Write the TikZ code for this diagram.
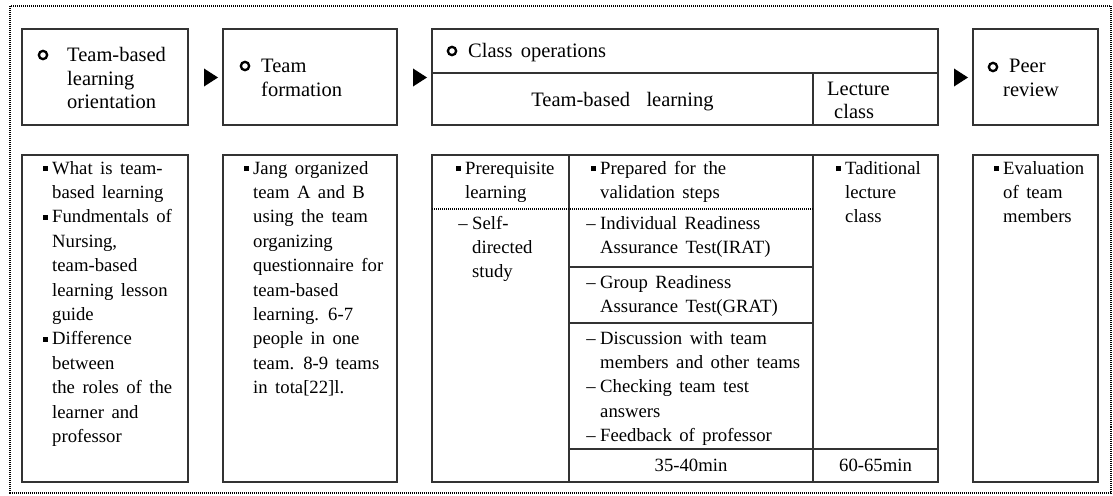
\documentclass[tikz,border=0pt]{standalone}
\usepackage{fontspec}
\setmainfont{Liberation Serif}
\usetikzlibrary{calc}
\newcommand\sqb{\rule[3pt]{5pt}{5pt}}
\newcommand\bul{\leavevmode\llap{\sqb\hspace{4.5pt}}}
\newcommand\dsh{\leavevmode\llap{–\hspace{4.5pt}}}
\newcommand\bodyfont{\fontsize{18.7}{24.4}\selectfont\spaceskip=0.4em plus 0.1em minus 0.05em\relax}
\newcommand\headfont{\fontsize{20.5}{23.3}\selectfont\spaceskip=0.4em plus 0.1em minus 0.05em\relax}
\newcommand\lines[1]{\parbox[t]{300pt}{#1}}
\begin{document}
\begin{tikzpicture}[x=1pt,y=-1pt,
  box/.style={draw=black!80, line width=1.2pt, inner sep=0, outer sep=0, anchor=north west},
  bt/.style={anchor=base west, inner sep=0, font=\bodyfont},
  ht/.style={anchor=base west, inner sep=0, font=\headfont},
  ct/.style={anchor=base, inner sep=0, font=\bodyfont},
  ring/.style={circle, draw=black, line width=2.3pt, inner sep=0, minimum size=8.3pt},
  gridline/.style={draw=black!80, line width=1.2pt},
  dotline/.style={line width=1.1pt, dash pattern=on 1pt off 1pt}]
\useasboundingbox (0,0) rectangle (1113,495);
\fill[white] (0,0) rectangle (1113,495);
\draw[line width=2pt, dash pattern=on 1pt off 1pt] (10,6) rectangle (1110.5,492.5);

% header boxes
\node[box, minimum width=166pt, minimum height=96pt] (h1) at (22,29) {};
\node[box, minimum width=174pt, minimum height=96pt] (h2) at (223,29) {};
\node[box, minimum width=506pt, minimum height=96pt] (hc) at (432,29) {};
\node[box, minimum width=125pt, minimum height=96pt] (hp) at (973,29) {};
\draw[gridline] (432,73) -- (938,73);
\draw[gridline] (813,73) -- (813,125);

% lower boxes
\node[box, minimum width=166pt, minimum height=327pt] (b1) at (22,155) {};
\node[box, minimum width=174pt, minimum height=327pt] (b2) at (223,155) {};
\node[box, minimum width=506pt, minimum height=327pt] (bc) at (432,155) {};
\node[box, minimum width=125pt, minimum height=327pt] (bp) at (973,155) {};
\draw[gridline] (569,155) -- (569,482);
\draw[gridline] (813,155) -- (813,482);
\draw[dotline] (432,209) -- (813,209);
\draw[gridline] (569,267) -- (813,267);
\draw[gridline] (569,323) -- (813,323);
\draw[gridline] (569,449) -- (938,449);

% arrows
\path (h1.east) -- (h2.west) coordinate[pos=0.5] (a1);
\path (h2.east) -- (hc.west) coordinate[pos=0.5] (a2);
\path (hc.east) -- (hp.west) coordinate[pos=0.5] (a3);
\foreach \a in {a1,a2,a3}{
  \fill ($(\a)+(-1.5,-8.5)$) -- ($(\a)+(12.5,0.5)$) -- ($(\a)+(-1.5,9.5)$) -- cycle;
}

% rings
\node[ring] (r1) at (43,55) {};
\node[ring] (r2) at (245,66) {};
\node[ring] (r3) at (452,51) {};
\node[ring] (r4) at (993,67) {};

% header texts
\node[ht] (t1) at (67,62) {\lines{Team-based\\learning\\orientation}};
\node[ht] (t2) at (261,73) {\lines{Team\\formation}};
\node[ht] (t3) at (468,58) {Class operations};
\node[anchor=base, inner sep=0, font=\headfont] (t4) at (622.5,106) {Team-based\hspace{0.4em} learning};
\node[ht] (t5) at (827,95) {Lecture};
\node[ht] (t6) at (834,118) {class};
\node[ht] (t7) at (1009,73) {Peer};
\node[ht] (t8) at (1003,96) {review};

% lower texts
\node[bt] (l1) at (52,174) {\lines{\bul What is team-\\based learning\\\bul Fundmentals of\\Nursing,\\team-based\\learning lesson\\guide\\\bul Difference\\between\\the roles of the\\learner and\\professor}};
\node[bt] (l2) at (253,174) {\lines{\bul Jang organized\\team A and B\\using the team\\organizing\\questionnaire for\\team-based\\learning. 6-7\\people in one\\team. 8-9 teams\\in tota[22]l.}};
\node[bt] (l3) at (465,174) {\lines{\bul Prerequisite\\learning}};
\node[bt] (l4) at (472,229) {\lines{\dsh Self-\\directed\\study}};
\node[bt] (l5) at (600,174) {\lines{\bul Prepared for the\\validation steps}};
\node[bt] (l6) at (600,229) {\lines{\dsh Individual Readiness\\Assurance Test(IRAT)}};
\node[bt] (l7) at (600,288) {\lines{\dsh Group Readiness\\Assurance Test(GRAT)}};
\node[bt] (l8) at (600,344) {\lines{\dsh Discussion with team\\members and other teams\\\dsh Checking team test\\answers\\\dsh Feedback of professor}};
\node[ct] (l9) at (691,471) {35-40min};
\node[bt] (l10) at (845,174) {\lines{\bul Taditional\\lecture\\class}};
\node[ct] (l11) at (875.5,471) {60-65min};
\node[bt] (l12) at (1003,174) {\lines{\bul Evaluation\\of team\\members}};
\end{tikzpicture}
\end{document}
